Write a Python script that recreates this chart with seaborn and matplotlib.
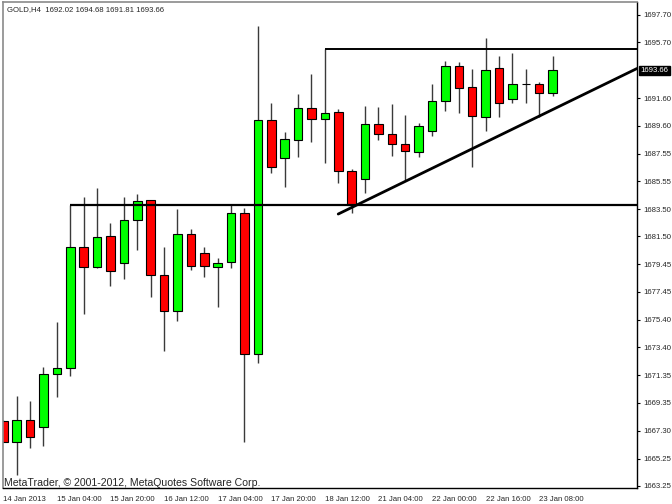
import numpy as np
import pandas as pd
import matplotlib
matplotlib.use('Agg')
import matplotlib.pyplot as plt
import seaborn as sns

# GOLD H4 candles (oldest first)
opens = [1668.03, 1666.49, 1668.08, 1667.59, 1671.44, 1671.86, 1680.75, 1679.29, 1681.51, 1679.58,
         1682.68, 1684.17, 1678.69, 1676.05, 1681.71, 1680.27, 1679.29, 1679.66, 1683.20, 1672.91,
         1690.00, 1687.22, 1688.56, 1690.88, 1690.07, 1690.58, 1686.31, 1685.68, 1689.71, 1688.98,
         1688.27, 1687.70, 1689.19, 1691.41, 1693.99, 1692.41, 1690.26, 1693.80, 1691.54, 1692.63,
         1692.63, 1692.02]
highs = [1668.08, 1669.83, 1669.49, 1671.98, 1675.27, 1683.78, 1684.37, 1685.03, 1682.47, 1684.41,
         1684.61, 1684.17, 1680.71, 1683.49, 1682.07, 1680.71, 1679.91, 1683.78, 1683.56, 1696.90,
         1691.29, 1689.12, 1691.90, 1693.39, 1695.19, 1690.80, 1686.41, 1691.05, 1691.00, 1691.17,
         1690.39, 1689.78, 1692.65, 1694.34, 1694.28, 1693.73, 1696.00, 1694.70, 1694.90, 1693.73,
         1692.80, 1694.68]
lows = [1666.47, 1664.06, 1666.05, 1666.18, 1669.74, 1671.30, 1675.83, 1679.17, 1677.88, 1678.37,
        1680.51, 1677.10, 1673.15, 1675.34, 1679.05, 1678.56, 1676.37, 1679.17, 1666.49, 1672.27,
        1686.17, 1685.14, 1687.34, 1688.43, 1686.90, 1685.43, 1683.24, 1684.70, 1688.56, 1687.39,
        1685.63, 1687.29, 1688.85, 1690.68, 1690.51, 1686.56, 1689.24, 1690.22, 1691.29, 1691.24,
        1690.26, 1691.81]
closes = [1666.49, 1668.08, 1666.86, 1671.44, 1671.86, 1680.75, 1679.29, 1681.44, 1679.00, 1682.68,
          1684.10, 1678.69, 1676.05, 1681.71, 1679.37, 1679.37, 1679.58, 1683.20, 1672.91, 1690.02,
          1686.56, 1688.63, 1690.88, 1690.07, 1690.56, 1686.31, 1683.78, 1689.71, 1688.98, 1688.27,
          1687.73, 1689.58, 1691.41, 1693.99, 1692.38, 1690.33, 1693.68, 1691.24, 1692.63, 1692.63,
          1692.02, 1693.66]

x_label_pos = [0, 4, 8, 12, 16, 20, 24, 28, 32, 36, 40]
x_labels = ['14 Jan 2013', '15 Jan 04:00', '15 Jan 20:00', '16 Jan 12:00', '17 Jan 04:00',
            '17 Jan 20:00', '18 Jan 12:00', '21 Jan 04:00', '22 Jan 00:00', '22 Jan 16:00',
            '23 Jan 08:00']
y_ticks = [1697.70, 1695.70, 1691.60, 1689.60, 1687.55, 1685.55, 1683.50, 1681.50, 1679.45,
           1677.45, 1675.40, 1673.40, 1671.35, 1669.35, 1667.30, 1665.25, 1663.25]
last_price = 1693.66

# drawn objects: two horizontal levels and a rising trendline
support_level, support_start = 1683.78, 5
resistance_level, resistance_start = 1695.19, 24
trend_x0, trend_y0, trend_slope = 25, 1683.14, 0.4774

sns.set_style('white')
plt.rcParams['font.family'] = ['Liberation Sans', 'DejaVu Sans']

df = pd.DataFrame({'open': opens, 'high': highs, 'low': lows, 'close': closes})
df['idx'] = np.arange(len(df))
df['bottom'] = df[['open', 'close']].min(axis=1)
df['height'] = (df['close'] - df['open']).abs()
df['color'] = np.where(df['close'] > df['open'], '#00ff00',
                       np.where(df['close'] < df['open'], '#ff0000', 'black'))

x_max = 47.3
fig = plt.figure(figsize=(6.72, 5.04), dpi=100)
ax = fig.add_axes([3 / 672, 16 / 504, 634 / 672, 486 / 504])

# wicks then bodies
ax.vlines(df['idx'], df['low'], df['high'], color='#3a3a3a', lw=1, zorder=1)
ax.bar(df['idx'], df['height'], bottom=df['bottom'], width=0.64, color=df['color'],
       edgecolor='black', lw=0.8, zorder=2)

# levels and trendline
ax.hlines(support_level, support_start, x_max, color='black', lw=1.6, zorder=3)
ax.hlines(resistance_level, resistance_start, x_max, color='black', lw=1.4, zorder=3)
trend = pd.DataFrame({'x': [trend_x0, x_max]})
trend['y'] = trend_y0 + trend_slope * (trend['x'] - trend_x0)
sns.lineplot(data=trend, x='x', y='y', color='black', lw=2, ax=ax, zorder=3)

ax.set_xlim(-0.02, x_max)
ax.set_ylim(1663.10, 1698.65)
ax.set_xlabel('')
ax.set_ylabel('')

ax.yaxis.tick_right()
ax.set_yticks(y_ticks)
ax.set_yticklabels([f'{v:.2f}' for v in y_ticks])
ax.tick_params(axis='y', direction='out', length=2.5, width=0.8, pad=2, labelsize=5.6,
               left=False, right=True, color='black')
ax.set_xticks(x_label_pos)
ax.set_xticklabels(x_labels, ha='left')
ax.tick_params(axis='x', direction='out', length=3, width=0.8, pad=2.5, labelsize=5.6,
               color='black')
for lab in ax.get_xticklabels():
    lab.set_horizontalalignment('left')

for side in ['left', 'top']:
    ax.spines[side].set_color('#8a8a8a')
    ax.spines[side].set_linewidth(1.2)
for side in ['right', 'bottom']:
    ax.spines[side].set_color('black')
    ax.spines[side].set_linewidth(1)
ax.grid(False)

# current price box on the price scale
ax.annotate(f'{last_price:.2f}', xy=(1.0, last_price), xycoords=('axes fraction', 'data'),
            xytext=(2.5, 0), textcoords='offset points', ha='left', va='center',
            fontsize=5.6, color='white',
            bbox=dict(boxstyle='square,pad=0.15', fc='black', ec='black'))

fig.text(7 / 672, 1 - 9.5 / 504, 'GOLD,H4  1692.02 1694.68 1691.81 1693.66', fontsize=5.6,
         va='center', ha='left')
fig.text(4 / 672, 1 - 483 / 504, 'MetaTrader, © 2001-2012, MetaQuotes Software Corp.',
         fontsize=7.6, va='center', ha='left')

fig.savefig('out.png', dpi=100)
